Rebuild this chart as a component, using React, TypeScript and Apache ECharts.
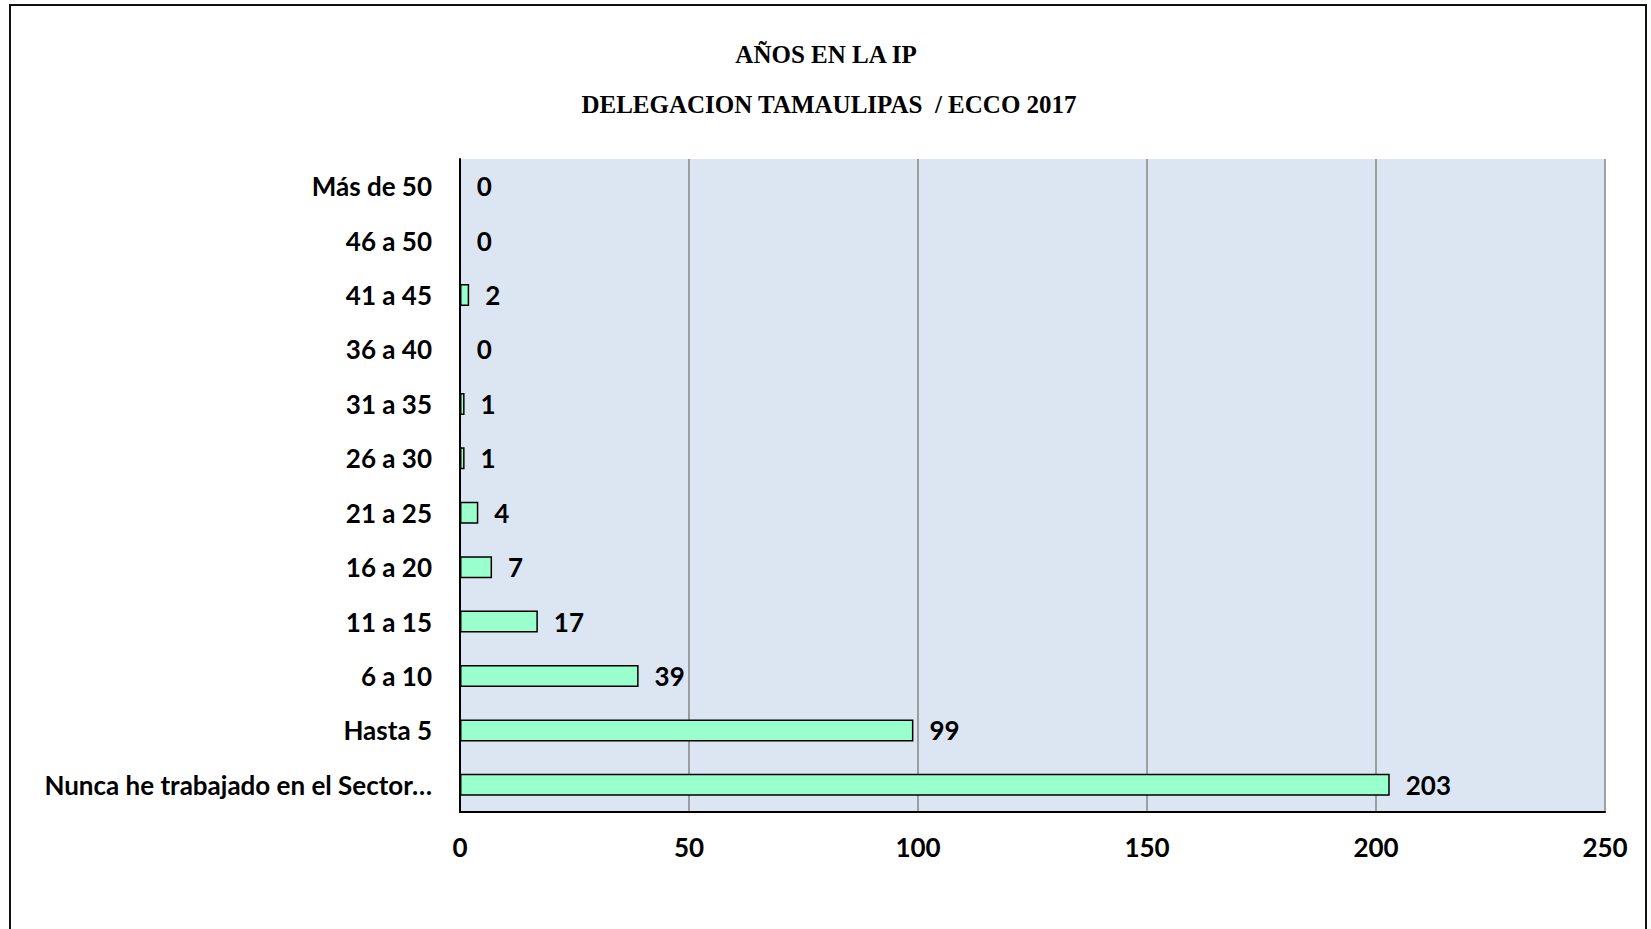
import React, { useEffect, useRef } from "react";
import * as echarts from "echarts";

// Years-in-the-private-sector ranges, bottom to top on the category axis
const categories = [
  "Nunca he trabajado en el Sector…",
  "Hasta 5",
  "6 a 10",
  "11 a 15",
  "16 a 20",
  "21 a 25",
  "26 a 30",
  "31 a 35",
  "36 a 40",
  "41 a 45",
  "46 a 50",
  "Más de 50",
];
const counts = [203, 99, 39, 17, 7, 4, 1, 1, 0, 2, 0, 0];

const titleLines = ["AÑOS EN LA IP", "DELEGACION TAMAULIPAS  / ECCO 2017"];

const axisMin = 0;
const axisMax = 250;
const axisStep = 50;

const W = 1651;
const H = 929;
const LABEL_FONT = "Lato, 'Open Sans', sans-serif";
const TITLE_FONT = "'Liberation Serif', 'Times New Roman', serif";

export default function App() {
  const ref = useRef<HTMLDivElement | null>(null);

  useEffect(() => {
    if (!ref.current) return;
    const chart = echarts.init(ref.current, undefined, { renderer: "svg" });

    const option: echarts.EChartsOption = {
      animation: false,
      backgroundColor: "#ffffff",
      graphic: [
        {
          type: "rect",
          silent: true,
          shape: { x: 10, y: 5, width: 1636, height: 960 },
          style: { fill: "none", stroke: "#111111", lineWidth: 2 },
        },
        {
          type: "text",
          silent: true,
          x: 826,
          y: 54,
          style: {
            text: titleLines[0],
            font: `bold 25px ${TITLE_FONT}`,
            fill: "#000000",
            align: "center",
            verticalAlign: "middle",
          },
        },
        {
          type: "text",
          silent: true,
          x: 829,
          y: 104,
          style: {
            text: titleLines[1],
            font: `bold 25px ${TITLE_FONT}`,
            fill: "#000000",
            align: "center",
            verticalAlign: "middle",
          },
        },
      ],
      grid: {
        left: 460,
        right: W - 1605,
        top: 159,
        bottom: H - 812,
        containLabel: false,
        show: true,
        backgroundColor: "#DCE6F2",
        borderWidth: 0,
      },
      xAxis: {
        type: "value",
        min: axisMin,
        max: axisMax,
        interval: axisStep,
        axisLine: { show: true, lineStyle: { color: "#000000", width: 2 } },
        axisTick: { show: false },
        splitLine: { show: true, lineStyle: { color: "#868686", width: 1.5 } },
        axisLabel: {
          margin: 22,
          fontFamily: LABEL_FONT,
          fontWeight: "bold",
          fontSize: 26,
          color: "#000000",
        },
      },
      yAxis: {
        type: "category",
        data: categories,
        axisLine: { show: true, lineStyle: { color: "#000000", width: 2 } },
        axisTick: { show: false },
        splitLine: { show: false },
        axisLabel: {
          margin: 28,
          fontFamily: LABEL_FONT,
          fontWeight: "bold",
          fontSize: 26,
          color: "#000000",
        },
      },
      series: [
        {
          type: "bar",
          data: counts,
          barWidth: 22,
          itemStyle: { color: "#99FFCC", borderColor: "#000000", borderWidth: 1.5 },
          label: {
            show: true,
            position: "right",
            distance: 16,
            fontFamily: LABEL_FONT,
            fontWeight: "bold",
            fontSize: 26,
            color: "#000000",
          },
          z: 1,
        },
      ],
    };

    chart.setOption(option);
    return () => {
      chart.dispose();
    };
  }, []);

  return (
    <div
      ref={ref}
      style={{
        position: "fixed",
        left: 0,
        top: 0,
        width: W,
        height: H,
        background: "#ffffff",
      }}
    />
  );
}
